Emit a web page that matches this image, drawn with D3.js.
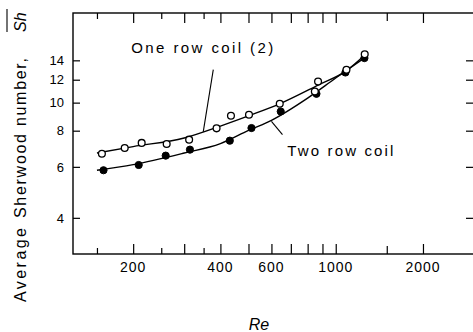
<!DOCTYPE html>
<html>
<head>
<meta charset="utf-8">
<script src="https://cdn.jsdelivr.net/npm/d3@7"></script>
<style>
  body { margin: 0; background: #fff; }
  svg { display: block; font-family: "Liberation Sans", Arial, sans-serif; }
</style>
</head>
<body>
<div id="chart"></div>
<script>
// tick values
const reMajorTicks = [200, 300, 400, 500, 600, 700, 800, 900, 1000, 2000];
const reMidTicks = [1500];
const reMinorTicks = [150, 250, 350];
const reLabels = [200, 400, 600, 1000, 2000];
const shTicks = [4, 6, 8, 10, 12, 14];

// measured points
const oneRowRe = [156, 187, 214, 261, 312, 388, 435, 502, 641, 847, 869, 1089, 1259];
const oneRowSh = [6.66, 6.97, 7.26, 7.2, 7.45, 8.15, 9.01, 9.08, 9.91, 10.93, 11.83, 12.98, 14.7];
const twoRowRe = [158, 209, 259, 314, 431, 512, 646, 858, 1080, 1256];
const twoRowSh = [5.84, 6.09, 6.56, 6.88, 7.39, 8.17, 9.32, 10.73, 12.71, 14.25];

// fitted curves drawn through the data
const oneRowFitRe = [150, 200, 300, 400, 500, 640, 870, 1090, 1260];
const oneRowFitSh = [6.7, 7.05, 7.55, 8.3, 9.0, 9.9, 11.5, 12.9, 14.6];
const twoRowFitRe = [150, 200, 300, 400, 500, 600, 800, 1000, 1260];
const twoRowFitSh = [5.84, 6.11, 6.7, 7.22, 8.02, 8.69, 10.37, 12.16, 14.3];

// annotation labels: text, anchor point, leader line (Re, Sh)
const oneRowLabel = {text: "One row coil (2)", re: 197, sh: 14.8, from: [378, 13.0], to: [349, 7.93]};
const twoRowLabel = {text: "Two row coil", re: 681, sh: 6.56, from: [600, 8.62], to: [655, 7.75]};

const W = 473, H = 332;
const svg = d3.select("#chart").append("svg")
    .attr("width", W).attr("height", H);

const x = d3.scaleLog().domain([124, 3000]).range([73, 474]);
const y = d3.scaleLog().domain([3, 20.4]).range([254, 13]);

const x0 = x.range()[0], x1 = x.range()[1];
const yTop = y.range()[1], yBot = y.range()[0];

// frame
svg.append("rect")
    .attr("x", x0).attr("y", yTop)
    .attr("width", x1 - x0).attr("height", yBot - yTop)
    .attr("fill", "none").attr("stroke", "#000").attr("stroke-width", 1.4);

function xTicks(vals, len) {
    svg.append("g").attr("transform", `translate(0,${yBot})`)
        .call(d3.axisBottom(x).tickValues(vals).tickSize(-len).tickFormat(""))
        .call(g => g.select(".domain").remove());
    svg.append("g").attr("transform", `translate(0,${yTop})`)
        .call(d3.axisTop(x).tickValues(vals).tickSize(-len).tickFormat(""))
        .call(g => g.select(".domain").remove());
}
xTicks(reMajorTicks, 10);
xTicks(reMidTicks, 8);
xTicks(reMinorTicks, 6);

svg.append("g").attr("transform", `translate(${x0},0)`)
    .call(d3.axisLeft(y).tickValues(shTicks).tickSize(-7).tickFormat(""))
    .call(g => g.select(".domain").remove());
svg.append("g").attr("transform", `translate(${x1 - 1},0)`)
    .call(d3.axisRight(y).tickValues(shTicks).tickSize(-7).tickFormat(""))
    .call(g => g.select(".domain").remove());
svg.selectAll(".tick line").attr("stroke", "#000").attr("stroke-width", 1.2);

// tick labels
svg.append("g").selectAll("text").data(reLabels).join("text")
    .attr("x", d => x(d)).attr("y", yBot + 18)
    .attr("text-anchor", "middle")
    .attr("font-size", 14).attr("letter-spacing", 1)
    .text(d => d);

svg.append("g").selectAll("text").data(shTicks).join("text")
    .attr("x", 64).attr("y", d => y(d)).attr("dy", "0.36em")
    .attr("text-anchor", "end")
    .attr("font-size", 13)
    .text(d => d);

// axis titles
svg.append("text")
    .attr("x", 259).attr("y", 330)
    .attr("text-anchor", "middle")
    .attr("font-size", 16).attr("font-style", "italic")
    .text("Re");

const yt = svg.append("g").attr("transform", "translate(26,302) rotate(-90)");
yt.append("text").attr("x", 0).attr("y", 0)
    .attr("font-size", 16).attr("textLength", 74).attr("lengthAdjust", "spacing")
    .text("Average");
yt.append("text").attr("x", 84).attr("y", 0)
    .attr("font-size", 16).attr("textLength", 160).attr("lengthAdjust", "spacing")
    .text("Sherwood number,");
yt.append("text").attr("x", 270).attr("y", 0)
    .attr("font-size", 16).attr("font-style", "italic")
    .text("Sh");
yt.append("line")
    .attr("x1", 270).attr("x2", 293).attr("y1", -19).attr("y2", -19)
    .attr("stroke", "#000").attr("stroke-width", 1.1);

// fitted curves
const lineGen = d3.line().x(d => x(d[0])).y(d => y(d[1])).curve(d3.curveMonotoneX);
svg.append("path")
    .attr("d", lineGen(oneRowFitRe.map((r, i) => [r, oneRowFitSh[i]])))
    .attr("fill", "none").attr("stroke", "#000").attr("stroke-width", 1.4);
svg.append("path")
    .attr("d", lineGen(twoRowFitRe.map((r, i) => [r, twoRowFitSh[i]])))
    .attr("fill", "none").attr("stroke", "#000").attr("stroke-width", 1.4);

// points
svg.append("g").selectAll("circle").data(twoRowRe.map((r, i) => [r, twoRowSh[i]])).join("circle")
    .attr("cx", d => x(d[0])).attr("cy", d => y(d[1])).attr("r", 3.6)
    .attr("fill", "#000").attr("stroke", "#000").attr("stroke-width", 1);
svg.append("g").selectAll("circle").data(oneRowRe.map((r, i) => [r, oneRowSh[i]])).join("circle")
    .attr("cx", d => x(d[0])).attr("cy", d => y(d[1])).attr("r", 3.4)
    .attr("fill", "#fff").attr("stroke", "#000").attr("stroke-width", 1.3);

// annotations
[oneRowLabel, twoRowLabel].forEach(a => {
    svg.append("line")
        .attr("x1", x(a.from[0])).attr("y1", y(a.from[1]))
        .attr("x2", x(a.to[0])).attr("y2", y(a.to[1]))
        .attr("stroke", "#000").attr("stroke-width", 1.1);
});
svg.append("text")
    .attr("x", x(oneRowLabel.re)).attr("y", y(oneRowLabel.sh))
    .attr("font-size", 15).attr("textLength", 142).attr("lengthAdjust", "spacing")
    .text(oneRowLabel.text);
svg.append("text")
    .attr("x", x(twoRowLabel.re)).attr("y", y(twoRowLabel.sh))
    .attr("font-size", 15).attr("textLength", 106).attr("lengthAdjust", "spacing")
    .text(twoRowLabel.text);
</script>
</body>
</html>
